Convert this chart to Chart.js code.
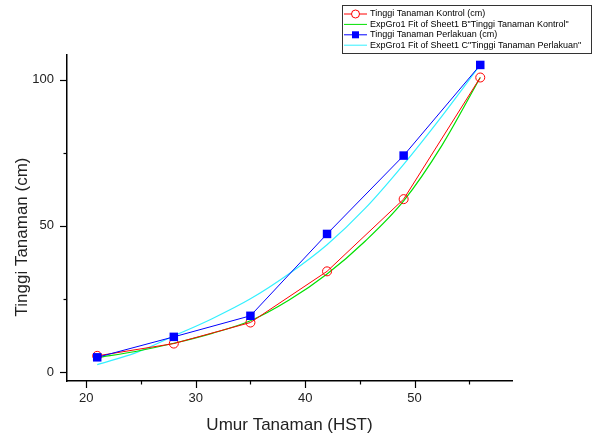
<!DOCTYPE html>
<html>
<head>
<meta charset="utf-8">
<script src="https://cdn.jsdelivr.net/npm/chart.js@4.4.1/dist/chart.umd.min.js"></script>
<style>
  body { margin: 0; background: #fff; }
  #wrap { width: 594px; height: 437px; }
</style>
</head>
<body>
<div id="wrap"><canvas id="growthChart"></canvas></div>
<script>
// ---------------- data ----------------
const ageDays = [21, 28, 35, 42, 49, 56];
const kontrol = [5.5, 9.7, 16.9, 34.4, 59.1, 100.7];
const perlakuan = [5.0, 12.0, 19.2, 47.2, 74.0, 105.0];

// fitted curves
const fitDays = [21, 24.5, 28, 31.5, 35, 38.5, 42, 45.5, 49, 52.5, 56];
const fitKontrol = [4.9, 7.0, 9.8, 13.2, 17.5, 24.5, 33.5, 44.8, 58.5, 77.5, 100.7];
const fitPerlakuan = [2.5, 6.5, 12.3, 18.2, 25.0, 33.5, 43.5, 56.0, 71.0, 87.5, 105.0];

const xTicks = [20, 25, 30, 35, 40, 45, 50, 55];
const yTicks = [0, 25, 50, 75, 100];

const seriesLabels = [
  "Tinggi Tanaman Kontrol (cm)",
  'ExpGro1 Fit of Sheet1 B"Tinggi Tanaman Kontrol"',
  "Tinggi Tanaman Perlakuan (cm)",
  'ExpGro1 Fit of Sheet1 C"Tinggi Tanaman Perlakuan"',
];

const FONT = "Arial, 'Liberation Sans', sans-serif";

const toPoints = (xs, ys) => xs.map((x, i) => ({ x: x, y: ys[i] }));

// ---------------- extras: ticks, axis titles, legend box ----------------
const originStyle = {
  id: "originStyle",
  afterDraw(chart) {
    const ctx = chart.ctx;
    const area = chart.chartArea;
    const xs = chart.scales.x;
    const ys = chart.scales.y;
    ctx.save();
    ctx.strokeStyle = "#000";
    ctx.lineWidth = 1.2;

    // ticks
    xTicks.forEach((v) => {
      const px = Math.round(xs.getPixelForValue(v)) + 0.5;
      const len = v % 10 === 0 ? 7 : 3.5;
      ctx.beginPath();
      ctx.moveTo(px, area.bottom);
      ctx.lineTo(px, area.bottom + len);
      ctx.stroke();
    });
    yTicks.forEach((v) => {
      const py = Math.round(ys.getPixelForValue(v)) + 0.5;
      const len = v % 50 === 0 ? 7 : 3.5;
      ctx.beginPath();
      ctx.moveTo(area.left, py);
      ctx.lineTo(area.left - len, py);
      ctx.stroke();
    });

    // axis titles
    ctx.fillStyle = "#222";
    ctx.font = "17px " + FONT;
    ctx.textAlign = "center";
    ctx.textBaseline = "alphabetic";
    ctx.fillText("Umur Tanaman (HST)", (area.left + area.right) / 2, 430);
    ctx.save();
    ctx.translate(26.5, 237);
    ctx.rotate(-Math.PI / 2);
    ctx.fillText("Tinggi Tanaman (cm)", 0, 0);
    ctx.restore();

    // legend box
    ctx.lineWidth = 1;
    ctx.strokeStyle = "#333";
    ctx.strokeRect(342.5, 5.5, 249, 48);
    ctx.font = "9px " + FONT;
    ctx.textAlign = "left";
    ctx.textBaseline = "middle";
    chart.data.datasets.forEach((ds, i) => {
      const y = 14 + i * 10.4;
      ctx.strokeStyle = ds.borderColor;
      ctx.lineWidth = 1;
      ctx.beginPath();
      ctx.moveTo(344, y);
      ctx.lineTo(367, y);
      ctx.stroke();
      if (ds.pointRadius > 0) {
        ctx.fillStyle = "#fff";
        if (ds.pointStyle === "circle") {
          ctx.beginPath();
          ctx.arc(355.5, y, 4, 0, Math.PI * 2);
          ctx.fill();
          ctx.strokeStyle = ds.pointBorderColor;
          ctx.stroke();
        } else {
          ctx.fillStyle = ds.pointBackgroundColor;
          ctx.fillRect(352, y - 3.5, 7, 7);
        }
      }
      ctx.fillStyle = "#000";
      ctx.fillText(ds.label, 370, y);
    });
    ctx.restore();
  },
};

const ctx = document.getElementById("growthChart").getContext("2d");

const growthChart = new Chart(ctx, {
  type: "scatter",
  data: {
    datasets: [
      {
        label: seriesLabels[0],
        data: toPoints(ageDays, kontrol),
        showLine: true,
        borderColor: "#ff0000",
        borderWidth: 1,
        pointStyle: "circle",
        pointRadius: 4.5,
        pointBorderWidth: 1,
        pointBorderColor: "#ff0000",
        pointBackgroundColor: "rgba(255,255,255,0)",
        order: 1,
      },
      {
        label: seriesLabels[1],
        data: toPoints(fitDays, fitKontrol),
        showLine: true,
        borderColor: "#00e000",
        borderWidth: 1.2,
        pointRadius: 0,
        cubicInterpolationMode: "monotone",
        order: 2,
      },
      {
        label: seriesLabels[2],
        data: toPoints(ageDays, perlakuan),
        showLine: true,
        borderColor: "#0000ff",
        borderWidth: 1,
        pointStyle: "rect",
        pointRadius: 6,
        pointBorderWidth: 0,
        pointBorderColor: "#0000ff",
        pointBackgroundColor: "#0000ff",
        order: 0,
      },
      {
        label: seriesLabels[3],
        data: toPoints(fitDays, fitPerlakuan),
        showLine: true,
        borderColor: "#33f0ff",
        borderWidth: 1.2,
        pointRadius: 0,
        cubicInterpolationMode: "monotone",
        order: 3,
      },
    ],
  },
  options: {
    responsive: true,
    maintainAspectRatio: false,
    animation: false,
    layout: { padding: { left: 0, right: 82, top: 55, bottom: 0 } },
    plugins: {
      legend: { display: false },
      tooltip: { enabled: false },
    },
    scales: {
      x: {
        type: "linear",
        min: 18.24,
        max: 58.9,
        afterFit: (s) => { s.height = 56; },
        afterBuildTicks: (s) => { s.ticks = xTicks.map((v) => ({ value: v })); },
        grid: { display: false, drawTicks: false },
        border: { display: true, color: "#000", width: 1.5 },
        ticks: {
          padding: 10,
          color: "#222",
          font: { family: FONT, size: 13 },
          maxRotation: 0,
          callback: (value) => (value % 10 === 0 ? String(value) : ""),
        },
      },
      y: {
        type: "linear",
        min: -3.1,
        max: 108.4,
        afterFit: (s) => { s.width = 67; },
        afterBuildTicks: (s) => { s.ticks = yTicks.map((v) => ({ value: v })); },
        grid: { display: false, drawTicks: false },
        border: { display: true, color: "#000", width: 1.5 },
        ticks: {
          padding: 13,
          color: "#222",
          font: { family: FONT, size: 13 },
          callback: (value) => (value % 50 === 0 ? String(value) : ""),
        },
      },
    },
  },
  plugins: [originStyle],
});
</script>
</body>
</html>
